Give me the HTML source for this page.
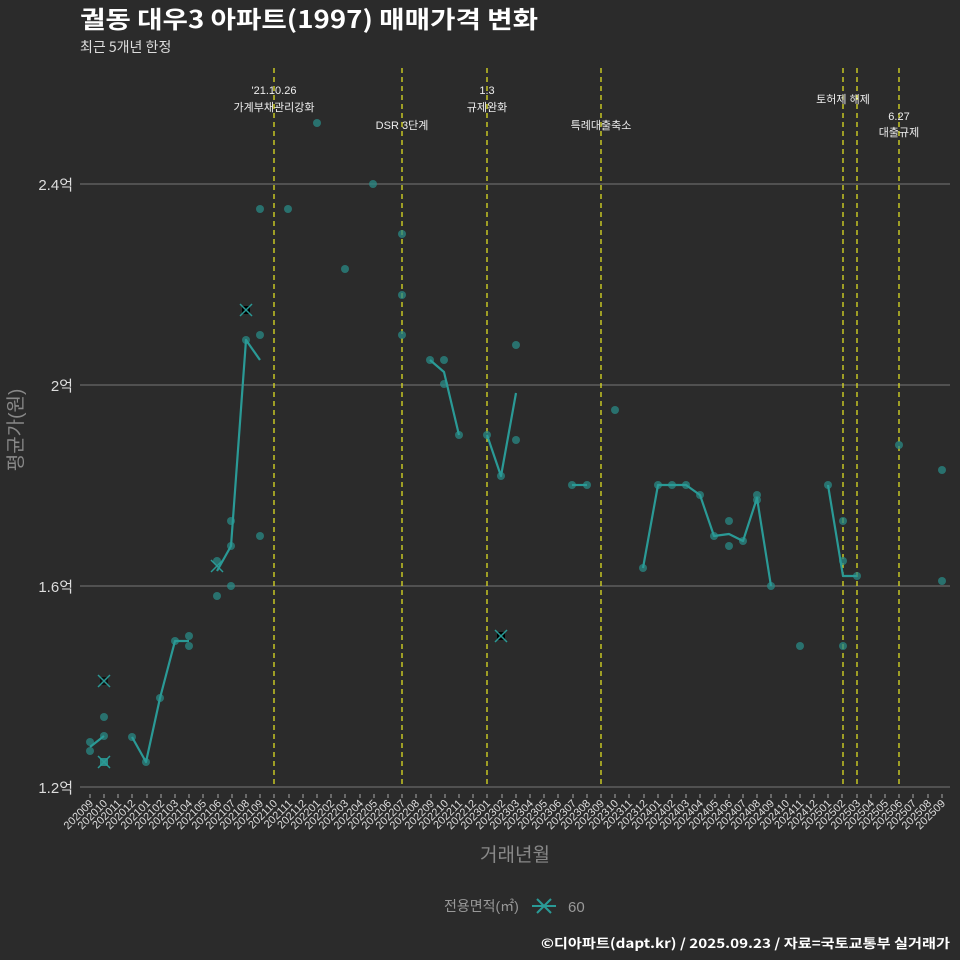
<!DOCTYPE html>
<html><head><meta charset="utf-8"><style>
body{margin:0;background:#2b2b2b;}
svg{display:block;font-family:"Liberation Sans","Noto Sans CJK KR",sans-serif;}
.kr{font-family:"Noto Sans CJK KR","Liberation Sans",sans-serif;}
</style></head><body>
<svg width="960" height="960" xmlns="http://www.w3.org/2000/svg">
<rect width="960" height="960" fill="#2b2b2b"/>
<text class="kr" x="80" y="28" fill="#fff" font-size="24" font-weight="bold" textLength="458" lengthAdjust="spacingAndGlyphs">궐동 대우3 아파트(1997) 매매가격 변화</text>
<text class="kr" x="80" y="52" fill="#ddd" font-size="14">최근 5개년 한정</text>
<g stroke="#777" stroke-width="1">
<line x1="80" x2="950" y1="184" y2="184"/><line x1="80" x2="950" y1="385" y2="385"/>
<line x1="80" x2="950" y1="586" y2="586"/><line x1="80" x2="950" y1="787" y2="787"/>
</g>
<g fill="#ddd" font-size="15" text-anchor="end">
<text x="73" y="190">2.4억</text><text x="73" y="391">2억</text><text x="73" y="592">1.6억</text><text x="73" y="793">1.2억</text>
</g>
<text transform="translate(22,430) rotate(-90)" fill="#888" font-size="19" text-anchor="middle">평균가(원)</text>
<g stroke="#dddd22" stroke-width="1.3" stroke-dasharray="5,4">
<line x1="274" x2="274" y1="68" y2="787"/><line x1="402" x2="402" y1="68" y2="787"/>
<line x1="487" x2="487" y1="68" y2="787"/><line x1="601" x2="601" y1="68" y2="787"/>
<line x1="843" x2="843" y1="68" y2="787"/><line x1="857" x2="857" y1="68" y2="787"/>
<line x1="899" x2="899" y1="68" y2="787"/>
</g>
<g fill="#eee" font-size="11" text-anchor="middle">
<text x="274" y="94">'21.10.26</text><text x="274" y="111">가계부채관리강화</text>
<text x="402" y="129">DSR 3단계</text>
<text x="487" y="94">1.3</text><text x="487" y="111">규제완화</text>
<text x="601" y="129">특례대출축소</text>
<text x="843" y="103">토허제 해제</text>
<text x="899" y="120">6.27</text><text x="899" y="136">대출규제</text>
</g>
<g fill="#2a8a86" fill-opacity="0.75">
<circle cx="90" cy="742" r="4"/><circle cx="90" cy="751" r="4"/>
<circle cx="104" cy="717" r="4"/><circle cx="104" cy="736" r="4"/>
<circle cx="132" cy="737" r="4"/><circle cx="146" cy="762" r="4"/><circle cx="160" cy="698" r="4"/>
<circle cx="175" cy="641" r="4"/><circle cx="189" cy="636" r="4"/><circle cx="189" cy="646" r="4"/>
<circle cx="217" cy="596" r="4"/><circle cx="217" cy="561" r="4"/>
<circle cx="231" cy="521" r="4"/><circle cx="231" cy="546" r="4"/><circle cx="231" cy="586" r="4"/>
<circle cx="246" cy="340" r="4"/>
<circle cx="260" cy="209" r="4"/><circle cx="260" cy="335" r="4"/><circle cx="260" cy="536" r="4"/>
<circle cx="288" cy="209" r="4"/><circle cx="317" cy="123" r="4"/><circle cx="345" cy="269" r="4"/>
<circle cx="373" cy="184" r="4"/>
<circle cx="402" cy="234" r="4"/><circle cx="402" cy="295" r="4"/><circle cx="402" cy="335" r="4"/>
<circle cx="430" cy="360" r="4"/><circle cx="444" cy="360" r="4"/><circle cx="444" cy="384" r="4"/>
<circle cx="459" cy="435" r="4"/><circle cx="487" cy="435" r="4"/><circle cx="501" cy="476" r="4"/>
<circle cx="516" cy="345" r="4"/><circle cx="516" cy="440" r="4"/>
<circle cx="572" cy="485" r="4"/><circle cx="587" cy="485" r="4"/><circle cx="615" cy="410" r="4"/>
<circle cx="643" cy="568" r="4"/><circle cx="658" cy="485" r="4"/><circle cx="672" cy="485" r="4"/>
<circle cx="686" cy="485" r="4"/><circle cx="700" cy="495" r="4"/><circle cx="714" cy="536" r="4"/>
<circle cx="729" cy="521" r="4"/><circle cx="729" cy="546" r="4"/><circle cx="743" cy="541" r="4"/>
<circle cx="757" cy="495" r="4"/><circle cx="757" cy="500" r="4"/><circle cx="771" cy="586" r="4"/>
<circle cx="800" cy="646" r="4"/><circle cx="828" cy="485" r="4"/>
<circle cx="843" cy="521" r="4"/><circle cx="843" cy="561" r="4"/><circle cx="843" cy="646" r="4"/>
<circle cx="857" cy="576" r="4"/><circle cx="899" cy="445" r="4"/>
<circle cx="942" cy="470" r="4"/><circle cx="942" cy="581" r="4"/>
</g>
<g fill="none" stroke="#2a9a96" stroke-width="2.2" stroke-linejoin="round">
<polyline points="90,747 104,736"/>
<polyline points="132,737 146,762 160,698 175,641 189,641"/>
<polyline points="217,571 231,546 246,340 260,360"/>
<polyline points="430,360 444,372 459,435"/>
<polyline points="487,435 501,476 516,393"/>
<polyline points="572,485 587,485"/>
<polyline points="643,568 658,485 672,485 686,485 700,495 714,536 729,534 743,541 757,498 771,586"/>
<polyline points="828,485 843,576 857,576"/>
</g>
<g stroke="#2a9a96" stroke-width="1.5">
<g transform="translate(104,681)"><rect x="-4" y="-4" width="8" height="8" fill="#111" stroke="none"/><line x1="-6" y1="-6" x2="6" y2="6"/><line x1="-6" y1="6" x2="6" y2="-6"/></g>
<g transform="translate(104,762)"><rect x="-4" y="-4" width="8" height="8" fill="#2a8a86" stroke="none"/><line x1="-6" y1="-6" x2="6" y2="6"/><line x1="-6" y1="6" x2="6" y2="-6"/></g>
<g transform="translate(217,566)"><line x1="-6" y1="-6" x2="6" y2="6"/><line x1="-6" y1="6" x2="6" y2="-6"/></g>
<g transform="translate(246,310)"><rect x="-4" y="-4" width="8" height="8" fill="#000" stroke="none"/><line x1="-6" y1="-6" x2="6" y2="6"/><line x1="-6" y1="6" x2="6" y2="-6"/></g>
<g transform="translate(501,636)"><rect x="-4" y="-4" width="8" height="8" fill="#000" stroke="none"/><line x1="-6" y1="-6" x2="6" y2="6"/><line x1="-6" y1="6" x2="6" y2="-6"/></g>
</g>
<g stroke="#aaa" stroke-width="1">
<path d="M90 794v4M104 794v4M118 794v4M132 794v4M147 794v4M161 794v4M175 794v4M189 794v4M203 794v4M218 794v4M232 794v4M246 794v4M260 794v4M274 794v4M289 794v4M303 794v4M317 794v4M331 794v4M345 794v4M360 794v4M374 794v4M388 794v4M402 794v4M416 794v4M431 794v4M445 794v4M459 794v4M473 794v4M487 794v4M502 794v4M516 794v4M530 794v4M544 794v4M558 794v4M573 794v4M587 794v4M601 794v4M615 794v4M629 794v4M644 794v4M658 794v4M672 794v4M686 794v4M700 794v4M715 794v4M729 794v4M743 794v4M757 794v4M771 794v4M786 794v4M800 794v4M814 794v4M828 794v4M842 794v4M857 794v4M871 794v4M885 794v4M899 794v4M913 794v4M928 794v4M942 794v4"/>
</g>
<g fill="#ddd" font-size="11" text-anchor="end">
<text transform="translate(94,804) rotate(-45)">202009</text>
<text transform="translate(108,804) rotate(-45)">202010</text>
<text transform="translate(122,804) rotate(-45)">202011</text>
<text transform="translate(136,804) rotate(-45)">202012</text>
<text transform="translate(151,804) rotate(-45)">202101</text>
<text transform="translate(165,804) rotate(-45)">202102</text>
<text transform="translate(179,804) rotate(-45)">202103</text>
<text transform="translate(193,804) rotate(-45)">202104</text>
<text transform="translate(207,804) rotate(-45)">202105</text>
<text transform="translate(222,804) rotate(-45)">202106</text>
<text transform="translate(236,804) rotate(-45)">202107</text>
<text transform="translate(250,804) rotate(-45)">202108</text>
<text transform="translate(264,804) rotate(-45)">202109</text>
<text transform="translate(278,804) rotate(-45)">202110</text>
<text transform="translate(293,804) rotate(-45)">202111</text>
<text transform="translate(307,804) rotate(-45)">202112</text>
<text transform="translate(321,804) rotate(-45)">202201</text>
<text transform="translate(335,804) rotate(-45)">202202</text>
<text transform="translate(349,804) rotate(-45)">202203</text>
<text transform="translate(364,804) rotate(-45)">202204</text>
<text transform="translate(378,804) rotate(-45)">202205</text>
<text transform="translate(392,804) rotate(-45)">202206</text>
<text transform="translate(406,804) rotate(-45)">202207</text>
<text transform="translate(420,804) rotate(-45)">202208</text>
<text transform="translate(435,804) rotate(-45)">202209</text>
<text transform="translate(449,804) rotate(-45)">202210</text>
<text transform="translate(463,804) rotate(-45)">202211</text>
<text transform="translate(477,804) rotate(-45)">202212</text>
<text transform="translate(491,804) rotate(-45)">202301</text>
<text transform="translate(506,804) rotate(-45)">202302</text>
<text transform="translate(520,804) rotate(-45)">202303</text>
<text transform="translate(534,804) rotate(-45)">202304</text>
<text transform="translate(548,804) rotate(-45)">202305</text>
<text transform="translate(562,804) rotate(-45)">202306</text>
<text transform="translate(577,804) rotate(-45)">202307</text>
<text transform="translate(591,804) rotate(-45)">202308</text>
<text transform="translate(605,804) rotate(-45)">202309</text>
<text transform="translate(619,804) rotate(-45)">202310</text>
<text transform="translate(633,804) rotate(-45)">202311</text>
<text transform="translate(648,804) rotate(-45)">202312</text>
<text transform="translate(662,804) rotate(-45)">202401</text>
<text transform="translate(676,804) rotate(-45)">202402</text>
<text transform="translate(690,804) rotate(-45)">202403</text>
<text transform="translate(704,804) rotate(-45)">202404</text>
<text transform="translate(719,804) rotate(-45)">202405</text>
<text transform="translate(733,804) rotate(-45)">202406</text>
<text transform="translate(747,804) rotate(-45)">202407</text>
<text transform="translate(761,804) rotate(-45)">202408</text>
<text transform="translate(775,804) rotate(-45)">202409</text>
<text transform="translate(790,804) rotate(-45)">202410</text>
<text transform="translate(804,804) rotate(-45)">202411</text>
<text transform="translate(818,804) rotate(-45)">202412</text>
<text transform="translate(832,804) rotate(-45)">202501</text>
<text transform="translate(846,804) rotate(-45)">202502</text>
<text transform="translate(861,804) rotate(-45)">202503</text>
<text transform="translate(875,804) rotate(-45)">202504</text>
<text transform="translate(889,804) rotate(-45)">202505</text>
<text transform="translate(903,804) rotate(-45)">202506</text>
<text transform="translate(917,804) rotate(-45)">202507</text>
<text transform="translate(932,804) rotate(-45)">202508</text>
<text transform="translate(946,804) rotate(-45)">202509</text>
</g>
<text x="515" y="861" fill="#888" font-size="19" text-anchor="middle">거래년월</text>
<text x="444" y="911" fill="#999" font-size="14">전용면적(㎡)</text>
<g stroke="#2a9a96" stroke-width="2"><line x1="532" x2="556" y1="906" y2="906"/><line x1="537" y1="899" x2="551" y2="913"/><line x1="537" y1="913" x2="551" y2="899"/></g>
<text x="568" y="912" fill="#999" font-size="15">60</text>
<text class="kr" x="541" y="948" fill="#fff" font-size="13" font-weight="bold" textLength="409" lengthAdjust="spacingAndGlyphs">©디아파트(dapt.kr) / 2025.09.23 / 자료=국토교통부 실거래가</text>
</svg>
</body></html>
